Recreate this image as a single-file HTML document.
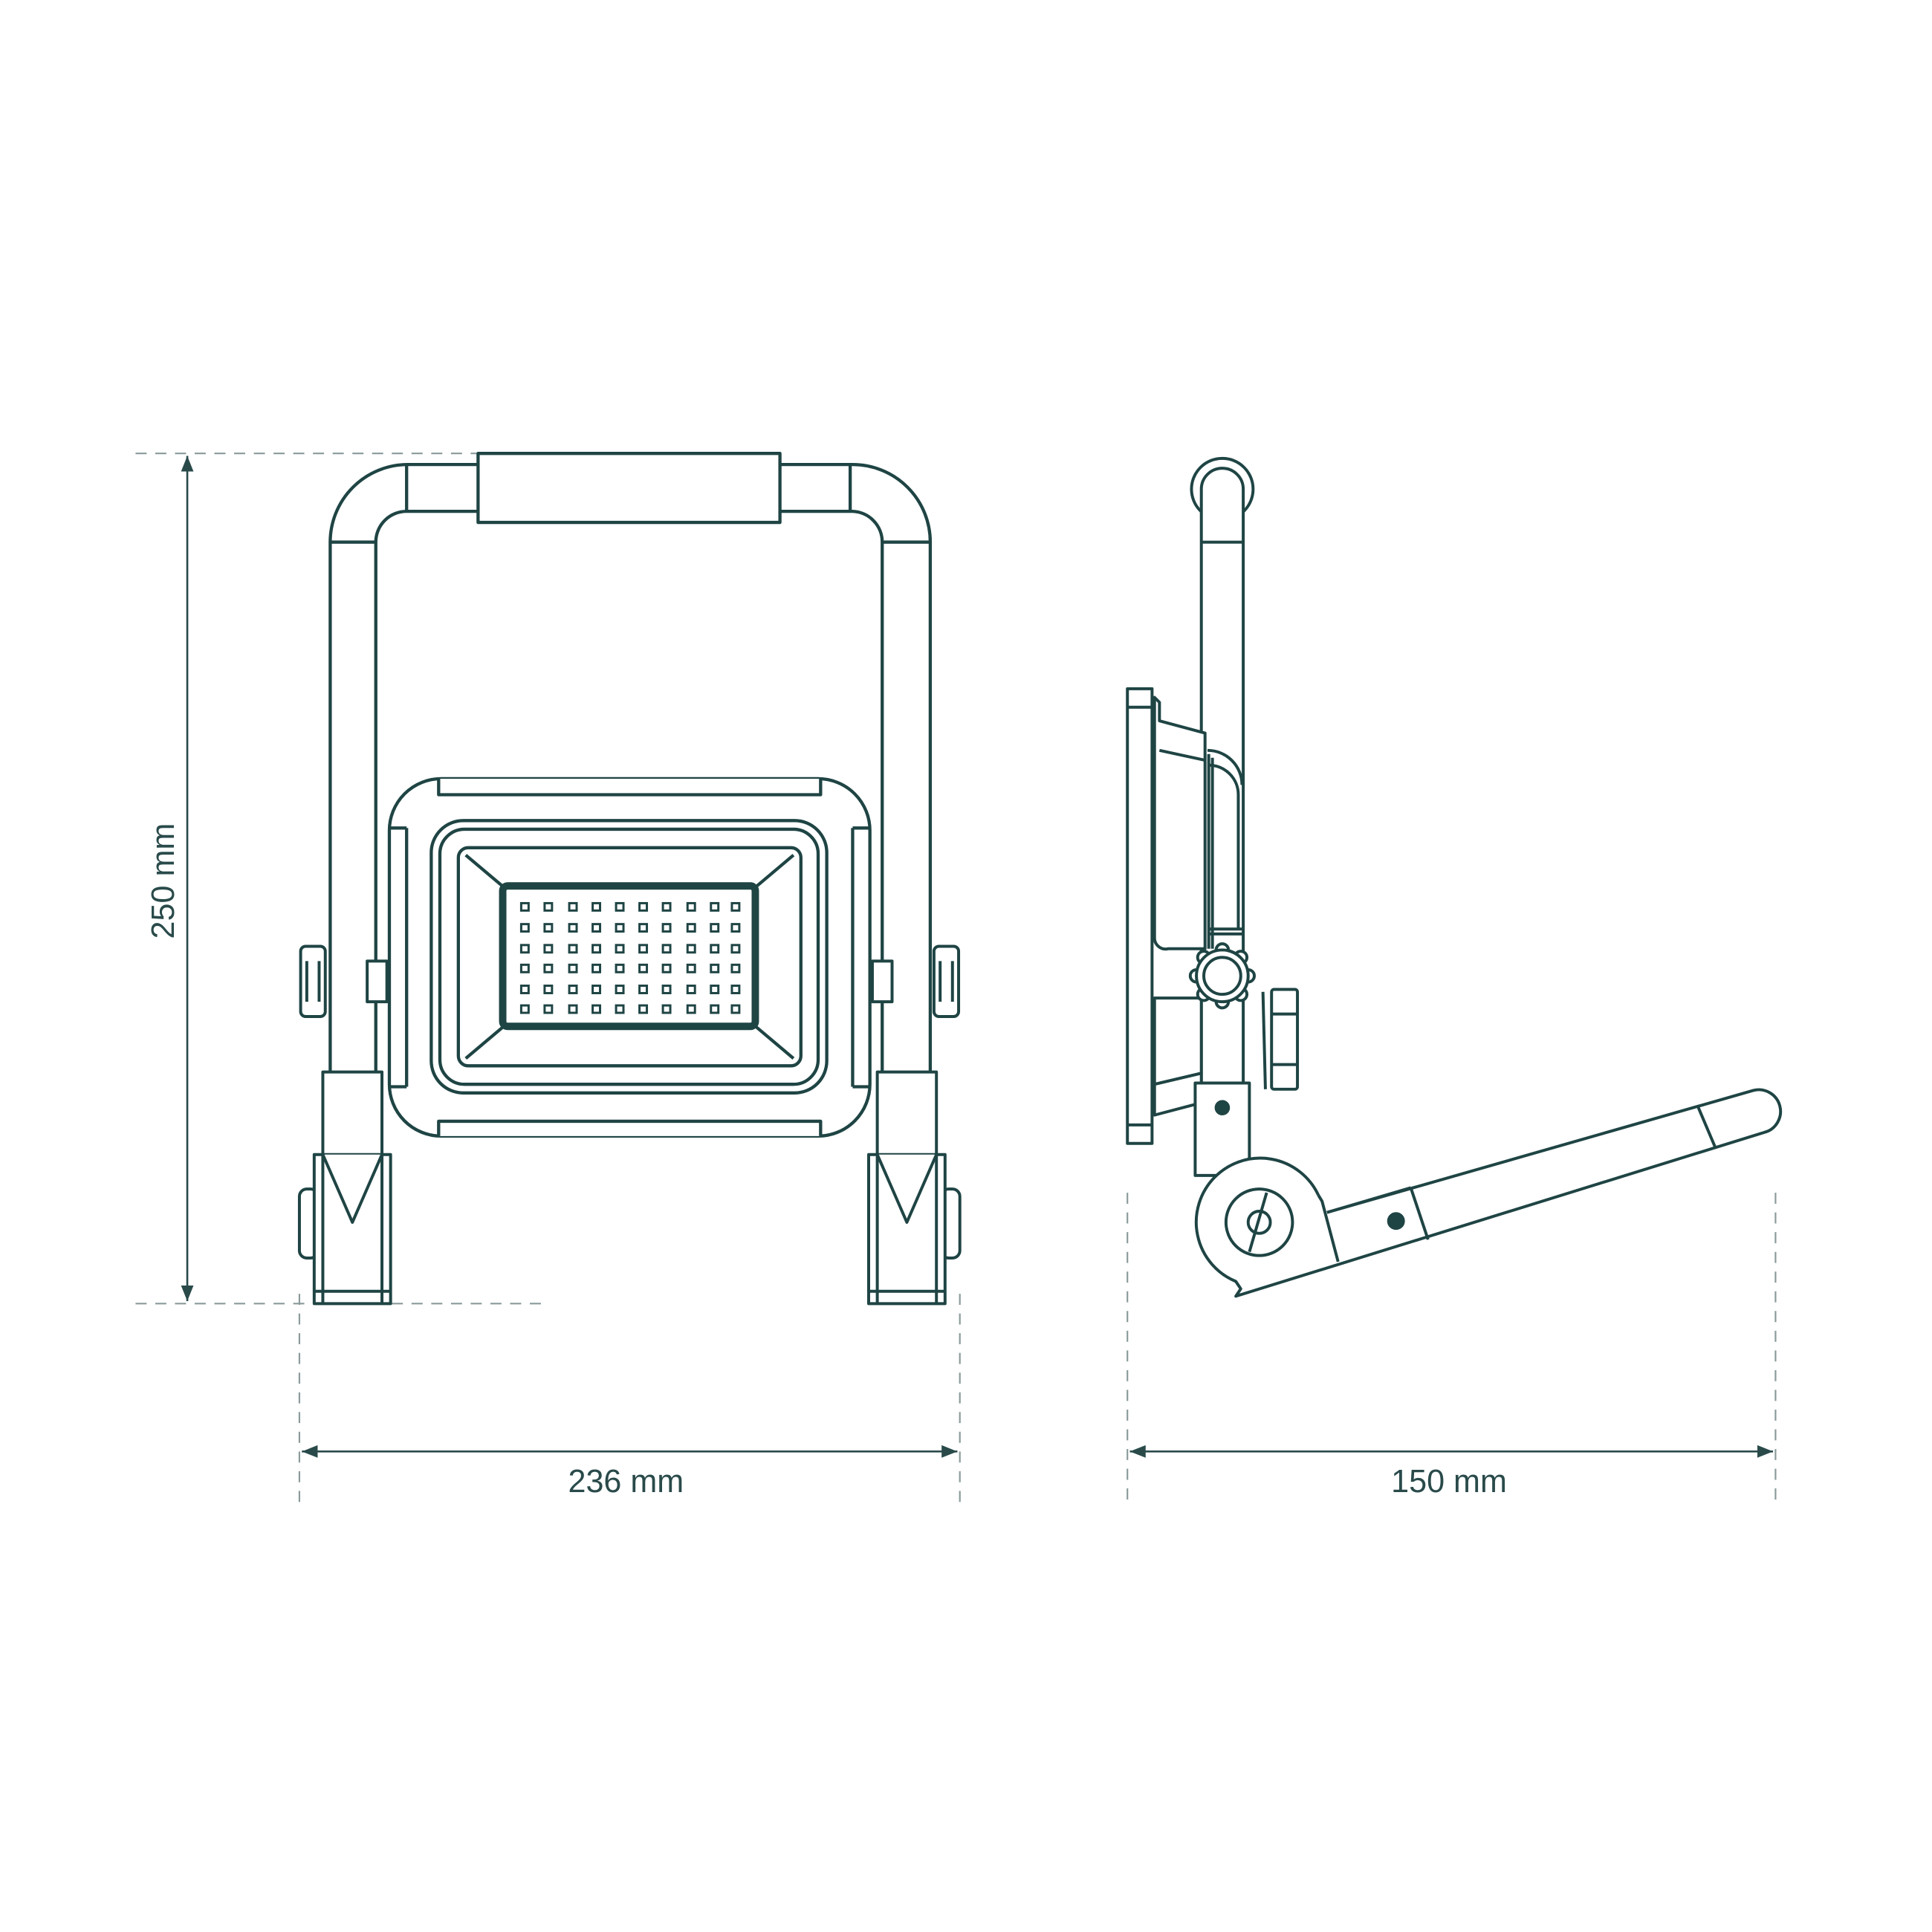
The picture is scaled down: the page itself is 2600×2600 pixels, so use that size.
<!DOCTYPE html>
<html><head><meta charset="utf-8"><style>
html,body{margin:0;padding:0;background:#fff;}
svg{display:block;}
text{font-family:"Liberation Sans",sans-serif;fill:#2a4a4a;}
</style></head><body>
<svg width="2600" height="2600" viewBox="0 0 1568 1568" xmlns="http://www.w3.org/2000/svg">
<defs>
<marker id="a" viewBox="0 0 10 10" refX="10" refY="5" markerWidth="8" markerHeight="8" orient="auto-start-reverse"><path d="M0,1 L10,5 L0,9 z" fill="#2a4a4a"/></marker>
</defs>
<g stroke="#8a9a9a" stroke-width="1.3" stroke-dasharray="9,7" fill="none">
<line x1="110" y1="368" x2="440" y2="368"/>
<line x1="110" y1="1058" x2="440" y2="1058"/>
<line x1="243" y1="1050" x2="243" y2="1222"/>
<line x1="779" y1="1050" x2="779" y2="1222"/>
<line x1="915" y1="968" x2="915" y2="1222"/>
<line x1="1441" y1="968" x2="1441" y2="1222"/>
</g>
<g stroke="#2a4a4a" stroke-width="1.6" fill="none">
<line x1="152" y1="370" x2="152" y2="1056" marker-start="url(#a)" marker-end="url(#a)"/>
<line x1="245" y1="1178" x2="777" y2="1178" marker-start="url(#a)" marker-end="url(#a)"/>
<line x1="917" y1="1178" x2="1439" y2="1178" marker-start="url(#a)" marker-end="url(#a)"/>
</g>
<text x="0" y="0" font-size="26" text-anchor="middle" transform="translate(141,715) rotate(-90)">250 mm</text>
<text x="508" y="1211" font-size="26" text-anchor="middle">236 mm</text>
<text x="1176" y="1211" font-size="26" text-anchor="middle">150 mm</text>

<g stroke="#1f4444" stroke-width="2.6" fill="#fff" stroke-linejoin="round">
<path d="M268,870 L268,440 A63,63 0 0 1 331,377 L692,377 A63,63 0 0 1 755,440 L755,870"/>
<path d="M305,870 L305,440 A25,25 0 0 1 330,415 L692,415 A25,25 0 0 1 716,440 L716,870"/>
<line x1="330" y1="377" x2="330" y2="415"/><line x1="690" y1="377" x2="690" y2="415"/>
<line x1="268" y1="440" x2="305" y2="440"/><line x1="716" y1="440" x2="755" y2="440"/>
<rect x="388" y="368" width="245" height="56"/>
<rect x="316" y="632" width="390" height="290" rx="42"/>
<path d="M356,632 L356,645 L666,645 L666,632"/>
<path d="M356,922 L356,910 L666,910 L666,922"/>
<line x1="316" y1="672" x2="330" y2="672"/><line x1="316" y1="882" x2="330" y2="882"/>
<line x1="706" y1="672" x2="692" y2="672"/><line x1="706" y1="882" x2="692" y2="882"/>
<line x1="330" y1="672" x2="330" y2="882"/><line x1="692" y1="672" x2="692" y2="882"/>
<rect x="350" y="666" width="321" height="221" rx="26"/>
<rect x="357" y="673" width="307" height="207" rx="20"/>
<rect x="372" y="688" width="278" height="177" rx="8"/>
<line x1="378" y1="694" x2="410" y2="721"/><line x1="644" y1="694" x2="612" y2="721"/>
<line x1="378" y1="859" x2="410" y2="832"/><line x1="644" y1="859" x2="612" y2="832"/>
<rect x="408" y="719" width="205" height="114" rx="4" stroke-width="6"/>
</g>
<g fill="none" stroke="#1f4444" stroke-width="1.8">
<rect x="423" y="733" width="6" height="6"/><rect x="442" y="733" width="6" height="6"/><rect x="462" y="733" width="6" height="6"/><rect x="481" y="733" width="6" height="6"/><rect x="500" y="733" width="6" height="6"/><rect x="519" y="733" width="6" height="6"/><rect x="538" y="733" width="6" height="6"/><rect x="558" y="733" width="6" height="6"/><rect x="577" y="733" width="6" height="6"/><rect x="594" y="733" width="6" height="6"/>
<rect x="423" y="750" width="6" height="6"/><rect x="442" y="750" width="6" height="6"/><rect x="462" y="750" width="6" height="6"/><rect x="481" y="750" width="6" height="6"/><rect x="500" y="750" width="6" height="6"/><rect x="519" y="750" width="6" height="6"/><rect x="538" y="750" width="6" height="6"/><rect x="558" y="750" width="6" height="6"/><rect x="577" y="750" width="6" height="6"/><rect x="594" y="750" width="6" height="6"/>
<rect x="423" y="767" width="6" height="6"/><rect x="442" y="767" width="6" height="6"/><rect x="462" y="767" width="6" height="6"/><rect x="481" y="767" width="6" height="6"/><rect x="500" y="767" width="6" height="6"/><rect x="519" y="767" width="6" height="6"/><rect x="538" y="767" width="6" height="6"/><rect x="558" y="767" width="6" height="6"/><rect x="577" y="767" width="6" height="6"/><rect x="594" y="767" width="6" height="6"/>
<rect x="423" y="783" width="6" height="6"/><rect x="442" y="783" width="6" height="6"/><rect x="462" y="783" width="6" height="6"/><rect x="481" y="783" width="6" height="6"/><rect x="500" y="783" width="6" height="6"/><rect x="519" y="783" width="6" height="6"/><rect x="538" y="783" width="6" height="6"/><rect x="558" y="783" width="6" height="6"/><rect x="577" y="783" width="6" height="6"/><rect x="594" y="783" width="6" height="6"/>
<rect x="423" y="800" width="6" height="6"/><rect x="442" y="800" width="6" height="6"/><rect x="462" y="800" width="6" height="6"/><rect x="481" y="800" width="6" height="6"/><rect x="500" y="800" width="6" height="6"/><rect x="519" y="800" width="6" height="6"/><rect x="538" y="800" width="6" height="6"/><rect x="558" y="800" width="6" height="6"/><rect x="577" y="800" width="6" height="6"/><rect x="594" y="800" width="6" height="6"/>
<rect x="423" y="816" width="6" height="6"/><rect x="442" y="816" width="6" height="6"/><rect x="462" y="816" width="6" height="6"/><rect x="481" y="816" width="6" height="6"/><rect x="500" y="816" width="6" height="6"/><rect x="519" y="816" width="6" height="6"/><rect x="538" y="816" width="6" height="6"/><rect x="558" y="816" width="6" height="6"/><rect x="577" y="816" width="6" height="6"/><rect x="594" y="816" width="6" height="6"/>
</g>
<g stroke="#1f4444" stroke-width="2.4" fill="#fff" stroke-linejoin="round">
<rect x="244" y="768" width="20" height="57" rx="4"/><line x1="249" y1="780" x2="249" y2="813"/><line x1="259" y1="780" x2="259" y2="813"/>
<rect x="758" y="768" width="20" height="57" rx="4"/><line x1="763" y1="780" x2="763" y2="813"/><line x1="773" y1="780" x2="773" y2="813"/>
<rect x="298" y="780" width="16" height="33"/><rect x="708" y="780" width="16" height="33"/>
<rect x="262" y="870" width="48" height="68"/>
<rect x="243" y="965" width="15" height="56" rx="6"/>
<rect x="255" y="937" width="62" height="121"/>
<line x1="262" y1="937" x2="262" y2="1058"/><line x1="310" y1="937" x2="310" y2="1058"/>
<path d="M262,937 L286,992 L310,937"/>
<line x1="255" y1="1048" x2="317" y2="1048"/>
<rect x="712" y="870" width="48" height="68"/>
<rect x="764" y="965" width="15" height="56" rx="6"/>
<rect x="705" y="937" width="62" height="121"/>
<line x1="712" y1="937" x2="712" y2="1058"/><line x1="760" y1="937" x2="760" y2="1058"/>
<path d="M712,937 L736,992 L760,937"/>
<line x1="705" y1="1048" x2="767" y2="1048"/>

<!-- side view -->
<circle cx="992" cy="397" r="25"/>
<path d="M975,880 L975,397 A17,17 0 0 1 1009,397 L1009,880"/>
<line x1="975" y1="440" x2="1009" y2="440"/>
<!-- housing -->
<path d="M937,566 L941,570 L941,585 L978,595 L978,770 L948,770 A9,9 0 0 1 937,761 Z"/>
<line x1="941" y1="609" x2="978" y2="617"/>
<path d="M937,810 L975,810 L975,871 L937,880 Z"/>
<path d="M937,880 L975,871 L975,895 L937,905 Z"/>
<path d="M980,609 A28,28 0 0 1 1008,637" fill="none"/>
<path d="M981,621 A24,24 0 0 1 1005,645 L1005,754" fill="none"/>
<line x1="981" y1="612" x2="981" y2="770"/><line x1="984" y1="615" x2="984" y2="770"/>
<line x1="981" y1="754" x2="1008" y2="754"/><line x1="981" y1="758" x2="1008" y2="758"/>
<rect x="915" y="559" width="20" height="369"/>
<line x1="915" y1="574" x2="935" y2="574"/>
<line x1="915" y1="913" x2="935" y2="913"/>
<!-- nut -->
<line x1="1025" y1="805" x2="1027" y2="884"/>
<rect x="1032" y="803" width="21" height="81" rx="2"/>
<line x1="1032" y1="823" x2="1053" y2="823"/><line x1="1032" y1="864" x2="1053" y2="864"/>
<!-- bracket -->
<rect x="970" y="879" width="44" height="75"/>
<circle cx="992" cy="899" r="5" fill="#1f4444"/>
<!-- pivot + arm -->
<path d="M1070,970 A52,52 0 1 0 1003,1040 L1007,1046 L1003,1052 L1432,919 A17,17 0 0 0 1423,885 L1077,984"/>
<path d="M1070,970 L1073,975 L1086,1024" fill="none"/>
<line x1="1145" y1="964" x2="1159" y2="1006"/>
<line x1="1077" y1="984" x2="1145" y2="964"/>
<line x1="1378" y1="898" x2="1392" y2="931"/>
<circle cx="1133" cy="991" r="6" fill="#1f4444"/>
<circle cx="1022" cy="992" r="27"/>
<circle cx="1022" cy="992" r="9"/>
<line x1="1028" y1="968" x2="1014" y2="1016"/>
<!-- knob -->
<g>
<circle cx="992" cy="771" r="5"/><circle cx="1007" cy="777" r="5"/><circle cx="1013" cy="792" r="5"/><circle cx="1007" cy="807" r="5"/><circle cx="992" cy="813" r="5"/><circle cx="977" cy="807" r="5"/><circle cx="971" cy="792" r="5"/><circle cx="977" cy="777" r="5"/>
<circle cx="992" cy="792" r="21" />
<circle cx="992" cy="792" r="15"/>
</g>
</g>
</svg>
</body></html>
